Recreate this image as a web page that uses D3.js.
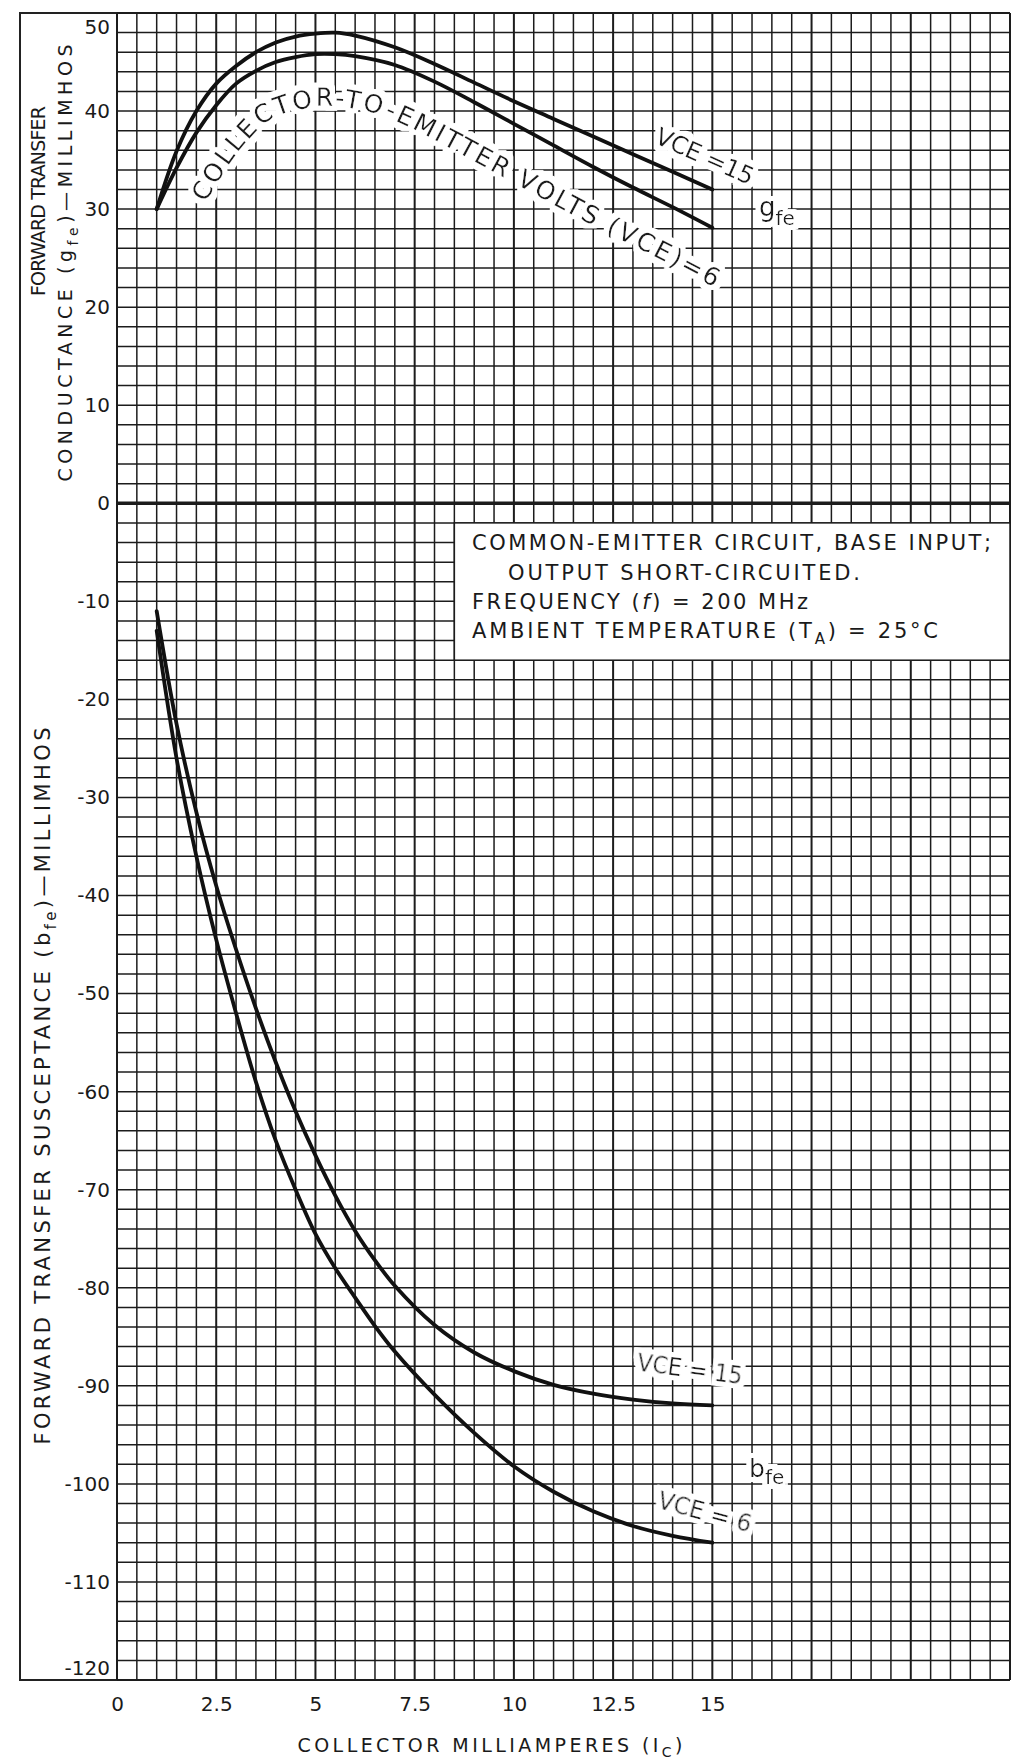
<!DOCTYPE html>
<html>
<head>
<meta charset="utf-8">
<script src="https://cdn.jsdelivr.net/npm/d3@7"></script>
<style>
  body { margin: 0; background: #fff; }
  svg { display: block; }
  text { font-family: "DejaVu Sans", sans-serif; fill: #1a1a1a; }
  .grid line { stroke: #1c1c1c; stroke-width: 1.5; }
  .grid line.major { stroke-width: 2; }
  .grid line.zero { stroke-width: 3.5; }
  .curve { fill: none; stroke: #111; stroke-width: 3.8; stroke-linecap: round; }
  .label { filter: url(#halo); white-space: pre; }
  .tick text { font-size: 20px; }
</style>
</head>
<body>
<svg id="chart"></svg>
<script>
const svgWidth = 1025, svgHeight = 1762;

// x ticks (collector mA) and y ticks (millimhos)
const xTicks = [0, 2.5, 5, 7.5, 10, 12.5, 15];
const yTicks = [50, 40, 30, 20, 10, 0, -10, -20, -30, -40, -50, -60, -70, -80, -90, -100, -110, -120];

// forward transfer conductance gfe
const gfeCurrent = [1, 1.5, 2, 2.5, 3, 3.5, 4, 4.5, 5, 5.5, 6, 7, 8, 9, 10, 11, 12, 13, 14, 15];
const gfeVce15 = [30, 35.9, 40.0, 42.8, 44.6, 46.0, 47.0, 47.6, 47.9, 48.0, 47.7, 46.5, 44.8, 42.9, 41.0, 39.2, 37.4, 35.6, 33.8, 32.0];
const gfeVce6 = [30, 34.2, 37.8, 40.6, 42.8, 44.1, 45.0, 45.5, 45.8, 45.8, 45.6, 44.7, 43.0, 40.9, 38.7, 36.5, 34.3, 32.2, 30.2, 28.1];

// forward transfer susceptance bfe
const bfeCurrent = [1, 1.5, 2, 2.5, 3, 3.5, 4, 4.5, 5, 5.5, 6, 6.5, 7, 8, 9, 10, 11, 12, 13, 14, 15];
const bfeVce15 = [-11, -22.5, -31.5, -39, -45.5, -51.5, -57, -62, -66.5, -70.6, -74.2, -77.2, -79.8, -83.8, -86.6, -88.5, -89.9, -90.8, -91.4, -91.8, -92];
const bfeVce6 = [-13, -26, -36, -44.5, -52, -59, -65, -70, -74.5, -78, -81, -83.9, -86.5, -90.9, -94.8, -98.2, -100.8, -102.8, -104.3, -105.3, -106];

// the curved legend along the lower gfe curve, in pieces
const vceWords = ["COLLECTOR-TO-EMITTER ", "VOLTS ", "(VCE)=6"];

const chart = d3.select("#chart")
    .attr("width", svgWidth)
    .attr("height", svgHeight);

// white blanking of the grid paper around curve labels
const defs = chart.append("defs");
const halo = defs.append("filter")
    .attr("id", "halo")
    .attr("x", "-10%").attr("y", "-30%").attr("width", "120%").attr("height", "160%");
halo.append("feMorphology").attr("in", "SourceAlpha").attr("operator", "dilate").attr("radius", 5).attr("result", "grown");
halo.append("feFlood").attr("flood-color", "#fff");
halo.append("feComposite").attr("in2", "grown").attr("operator", "in").attr("result", "white");
const merge = halo.append("feMerge");
merge.append("feMergeNode").attr("in", "white");
merge.append("feMergeNode").attr("in", "SourceGraphic");

const xScale = d3.scaleLinear().domain([0, 22.5]).range([117, 1010]);
const yScale = d3.scaleLinear().domain([-120, 50]).range([1680, 13]);

// frame around the y titles
chart.append("path")
    .attr("d", `M${xScale(0)},${yScale(50)}H20V${yScale(-120)}H${xScale(0)}`)
    .attr("fill", "none")
    .attr("stroke", "#222")
    .attr("stroke-width", 2);

// grid paper
const grid = chart.append("g").attr("class", "grid");
grid.selectAll(".v")
    .data(d3.range(0, 46))
    .enter().append("line")
    .attr("class", i => i % 5 == 0 ? "v major" : "v")
    .attr("x1", i => xScale(i * 0.5)).attr("x2", i => xScale(i * 0.5))
    .attr("y1", yScale(50)).attr("y2", yScale(-120));
grid.selectAll(".h")
    .data(d3.range(-120, 51, 2))
    .enter().append("line")
    .attr("class", v => v == 0 ? "h zero" : (v == 50 || v == -120 ? "h major" : "h"))
    .attr("x1", xScale(0)).attr("x2", xScale(22.5))
    .attr("y1", v => yScale(v)).attr("y2", v => yScale(v));

// note box
chart.append("rect")
    .attr("x", xScale(8.5)).attr("y", yScale(-2))
    .attr("width", xScale(22.5) - xScale(8.5))
    .attr("height", yScale(-16) - yScale(-2))
    .attr("fill", "#fff")
    .attr("stroke", "#1c1c1c").attr("stroke-width", 1.5);

const note = chart.append("g").style("font-size", "21px");
note.append("text").attr("x", 472).attr("y", 550).attr("textLength", 519).attr("lengthAdjust", "spacing")
    .text("COMMON-EMITTER CIRCUIT, BASE INPUT;");
note.append("text").attr("x", 508).attr("y", 580).attr("textLength", 352).attr("lengthAdjust", "spacing")
    .text("OUTPUT SHORT-CIRCUITED.");
const freq = note.append("text").attr("x", 472).attr("y", 609).attr("textLength", 336).attr("lengthAdjust", "spacing");
freq.append("tspan").text("FREQUENCY (");
freq.append("tspan").style("font-style", "italic").text("f");
freq.append("tspan").text(") = 200 MHz");
const temp = note.append("text").attr("x", 472).attr("y", 638).attr("textLength", 466).attr("lengthAdjust", "spacing");
temp.append("tspan").text("AMBIENT TEMPERATURE (T");
temp.append("tspan").attr("dy", 6).style("font-size", "15px").text("A");
temp.append("tspan").attr("dy", -6).text(") = 25°C");

// axes
const xAxis = d3.axisBottom(xScale).tickValues(xTicks).tickSize(0).tickPadding(17).tickFormat(d3.format("~g"));
const yAxis = d3.axisLeft(yScale).tickValues(yTicks).tickSize(0).tickPadding(7).tickFormat(d => String(d));

chart.append("g")
    .attr("transform", `translate(0,${yScale(-120)})`)
    .call(xAxis)
    .call(g => g.select(".domain").remove());

chart.append("g")
    .attr("transform", `translate(${xScale(0)},0)`)
    .call(yAxis)
    .call(g => g.select(".domain").remove())
    .call(g => g.selectAll(".tick text")
        .attr("dy", d => d == 50 ? "1.0em" : (d == -120 ? "-0.3em" : "0.32em")));

// axis titles
const xTitle = chart.append("text")
    .attr("x", 490).attr("y", 1752)
    .attr("text-anchor", "middle")
    .attr("textLength", 385).attr("lengthAdjust", "spacing")
    .style("font-size", "19px");
xTitle.append("tspan").text("COLLECTOR MILLIAMPERES (I");
xTitle.append("tspan").attr("dy", 5).style("font-size", "14px").text("C");
xTitle.append("tspan").attr("dy", -5).text(")");

chart.append("text")
    .attr("transform", "translate(45,201) rotate(-90)")
    .attr("text-anchor", "middle")
    .attr("textLength", 190).attr("lengthAdjust", "spacing")
    .style("font-size", "19px")
    .text("FORWARD TRANSFER");

const upTitle = chart.append("text")
    .attr("transform", "translate(72,263) rotate(-90)")
    .attr("text-anchor", "middle")
    .attr("textLength", 437).attr("lengthAdjust", "spacing")
    .style("font-size", "19px");
upTitle.append("tspan").text("CONDUCTANCE (g");
upTitle.append("tspan").attr("dy", 6).style("font-size", "14px").text("fe");
upTitle.append("tspan").attr("dy", -6).text(")—MILLIMHOS");

const lowTitle = chart.append("text")
    .attr("transform", "translate(50,1086) rotate(-90)")
    .attr("text-anchor", "middle")
    .attr("textLength", 717).attr("lengthAdjust", "spacing")
    .style("font-size", "21px");
lowTitle.append("tspan").text("FORWARD TRANSFER SUSCEPTANCE (b");
lowTitle.append("tspan").attr("dy", 6).style("font-size", "15px").text("fe");
lowTitle.append("tspan").attr("dy", -6).text(")—MILLIMHOS");

// curves
const valueline = d3.line()
    .x(d => xScale(d[0]))
    .y(d => yScale(d[1]))
    .curve(d3.curveCatmullRom.alpha(0.5));

function pairs(xs, ys) { return xs.map((x, i) => [x, ys[i]]); }

const labels = chart.append("g");
const curves = chart.append("g");
const series = [
    {id: "g15", pts: pairs(gfeCurrent, gfeVce15)},
    {id: "g6", pts: pairs(gfeCurrent, gfeVce6)},
    {id: "b15", pts: pairs(bfeCurrent, bfeVce15)},
    {id: "b6", pts: pairs(bfeCurrent, bfeVce6)}
];
series.forEach(s => {
    s.node = curves.append("path")
        .attr("class", "curve")
        .attr("d", valueline(s.pts))
        .node();
});

// a path running parallel to a curve; offset(t) px below it (negative = above), t = 0..1 along the curve
function offsetPath(node, offset, extend, fromX) {
    const L = node.getTotalLength();
    const pts = [];
    let startLen = 0, total = 0, prev = null;
    for (let i = 0; i <= 300; i++) {
        const s = L * i / 300;
        const p = node.getPointAtLength(s);
        const a = node.getPointAtLength(Math.max(0, s - 1));
        const b = node.getPointAtLength(Math.min(L, s + 1));
        let tx = b.x - a.x, ty = b.y - a.y;
        const m = Math.hypot(tx, ty);
        tx /= m; ty /= m;
        const o = offset(i / 300);
        const q = [p.x - ty * o, p.y + tx * o];
        if (prev) total += Math.hypot(q[0] - prev[0], q[1] - prev[1]);
        if (p.x < fromX) startLen = total;
        pts.push(q);
        prev = q;
        if (i == 300) {
            pts.push([q[0] + tx * extend, q[1] + ty * extend]);
            total += extend;
        }
    }
    return {d: "M" + pts.map(p => p.join(",")).join("L"), startLen: startLen, total: total};
}

function onPath(id, start, size, str) {
    const t = labels.append("text").attr("class", "label").style("font-size", size + "px");
    t.append("textPath")
        .attr("href", "#" + id)
        .attr("startOffset", start)
        .text(str);
    return t;
}

// "COLLECTOR-TO-EMITTER VOLTS (VCE)=6" hanging under the lower gfe curve
const p6 = offsetPath(series[1].node, t => 40 + 12 * Math.min(1, t / 0.3), 32, xScale(1.3));
defs.append("path").attr("id", "p6").attr("d", p6.d);
const probe = onPath("p6", 0, 25, vceWords.join(""));
const nChars = vceWords.join("").length;
const spacing = (p6.total - p6.startLen - probe.node().getComputedTextLength()) / nChars;
probe.remove();
let pos = p6.startLen;
vceWords.forEach(w => {
    const t = onPath("p6", pos, 25, w).attr("letter-spacing", spacing);
    pos += t.node().getComputedTextLength();
});

// "VCE =15" above the upper gfe curve
const p15 = offsetPath(series[0].node, t => -19, 80, xScale(13.35));
defs.append("path").attr("id", "p15").attr("d", p15.d);
onPath("p15", p15.startLen, 24, "VCE =15")
    .select("textPath").attr("textLength", 105).attr("lengthAdjust", "spacing");

function sub(x, y, main, small, size, smallSize, drop) {
    const t = labels.append("text").attr("class", "label").attr("x", x).attr("y", y).style("font-size", size + "px");
    t.append("tspan").text(main);
    t.append("tspan").attr("dy", drop).style("font-size", smallSize + "px").text(small);
    return t;
}
sub(759, 216, "g", "fe", 26, 20, 9);
sub(749, 1477, "b", "fe", 25, 20, 7);

// bfe curve labels, tilted roughly with the curve ends
const endB15 = [xScale(15), yScale(-92)];
labels.append("text").attr("class", "label")
    .attr("transform", `translate(${endB15[0] - 76},${endB15[1] - 35}) rotate(7.5)`)
    .attr("textLength", 106).attr("lengthAdjust", "spacingAndGlyphs")
    .style("font-size", "24px")
    .text("VCE = 15");
const endB6 = [xScale(15), yScale(-106)];
labels.append("text").attr("class", "label")
    .attr("transform", `translate(${endB6[0] - 56},${endB6[1] - 35}) rotate(15)`)
    .attr("textLength", 96).attr("lengthAdjust", "spacingAndGlyphs")
    .style("font-size", "24px")
    .text("VCE = 6");
</script>
</body>
</html>
